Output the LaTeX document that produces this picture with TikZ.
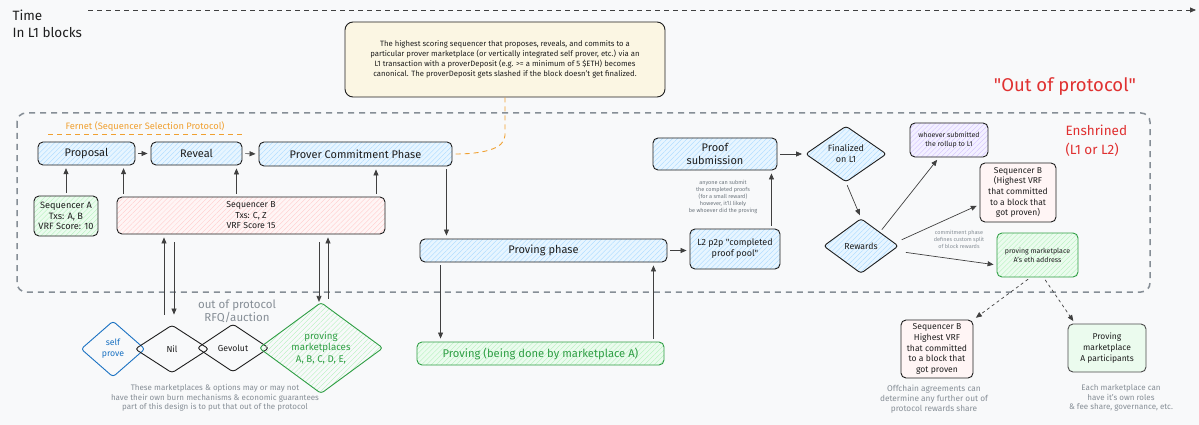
\documentclass[tikz,border=0pt]{standalone}
\usepackage{fontspec}
\setmainfont{Fira Sans}
\usetikzlibrary{arrows.meta,patterns.meta,shapes.geometric,calc}
\definecolor{bg}{HTML}{F8F9FA}
\definecolor{ink}{HTML}{1E1E1E}
\definecolor{bluef}{HTML}{E7F5FF}
\definecolor{blueh}{HTML}{A5D8FF}
\definecolor{pinkf}{HTML}{FFF5F5}
\definecolor{pinkh}{HTML}{FFC9C9}
\definecolor{greenf}{HTML}{EBFBEE}
\definecolor{greenh}{HTML}{B2F2BB}
\definecolor{lavf}{HTML}{F3F0FF}
\definecolor{lavh}{HTML}{D0BFFF}
\definecolor{creamf}{HTML}{FBF6E3}
\definecolor{gborder}{HTML}{2F9E44}
\definecolor{gtext}{HTML}{2F9E44}
\definecolor{bborder}{HTML}{1971C2}
\definecolor{redt}{HTML}{E03131}
\definecolor{orng}{HTML}{F0A030}
\definecolor{grayt}{HTML}{868E96}
\definecolor{grayd}{HTML}{6C757D}
\definecolor{dashg}{HTML}{868E96}
\begin{document}
\begin{tikzpicture}[x=1pt,y=-1pt,
  box/.style={draw=ink, line width=0.9pt, rounded corners=5pt, align=center, inner sep=1pt, text=ink},
  hatch/.style 2 args={preaction={fill=#1}, pattern={Lines[angle=45,distance=3.5pt,line width=0.35pt]}, pattern color=#2},
  bluebox/.style={box, hatch={bluef}{blueh}},
  pinkbox/.style={box, hatch={pinkf}{pinkh}},
  greenbox/.style={box, hatch={greenf}{greenh}},
  dia/.style={diamond, draw=ink, line width=0.9pt, rounded corners=3pt, align=center, inner sep=0pt, text=ink},
  arr/.style={draw=ink!85, line width=0.7pt, -{Triangle[length=6pt,width=5pt]}, shorten >=3pt, shorten <=3pt},
  darr/.style={arr, dashed},
]
\fill[bg] (0,0) rectangle (1199,425);
\useasboundingbox (0,0) rectangle (1199,425);

% time axis
\node[anchor=west, align=left, font=\fontsize{13.5}{17}\selectfont, text=ink] (time) at (9,24) {Time\\In L1 blocks};
\coordinate (t0) at (88,10);
\coordinate (t1) at (1196,10);
\draw[draw=ink!85, line width=0.8pt, dash pattern=on 5pt off 4pt, -{Triangle[length=6pt,width=5pt]}] (t0) -- (t1);

% enshrined region
\draw[dashg, line width=1.5pt, dash pattern=on 6pt off 5pt, rounded corners=9pt] (17,113) rectangle (1150,292);
\node[anchor=west, align=left, text=redt, font=\fontsize{13.5}{19}\selectfont] (ensh) at (1062,141) {Enshrined\\(L1 or L2)};
\node[text=redt, font=\fontsize{18.5}{24}\selectfont] (oop) at (1065,87) {\textquotedbl Out of protocol\textquotedbl};

% note
\node[box, fill=creamf, rounded corners=8pt, minimum width=320pt, minimum height=75pt, font=\fontsize{7.7}{10.2}\selectfont] (note) at (505,59.5)
 {The highest scoring sequencer that proposes, reveals, and commits to a\\
  particular prover marketplace (or vertically integrated self prover, etc.) via an\\
  L1 transaction with a proverDeposit (e.g. >= a minimum of 5 \$ETH) becomes\\
  canonical. The proverDeposit gets slashed if the block doesn't get finalized.};

% Fernet
\node[text=orng, font=\fontsize{9.3}{11}\selectfont] (fernet) at (145,127) {Fernet (Sequencer Selection Protocol)};
\coordinate (fl) at (48,134);
\coordinate (fr) at (245,134);
\draw[orng, line width=0.8pt, dash pattern=on 5pt off 4pt] (fl) -- (fr);

% top row
\node[bluebox, minimum width=97pt, minimum height=23pt, font=\fontsize{11}{13}\selectfont] (prop) at (86.5,153.5) {Proposal};
\node[bluebox, minimum width=91pt, minimum height=23pt, font=\fontsize{11}{13}\selectfont] (rev) at (196.5,153.5) {Reveal};
\node[bluebox, minimum width=193pt, minimum height=24pt, font=\fontsize{11}{13}\selectfont] (pcp) at (355.5,154) {Prover Commitment Phase};

\node[greenbox, minimum width=64pt, minimum height=40pt, font=\fontsize{9.2}{10.5}\selectfont] (seqA) at (66,216) {Sequencer A\\Txs: A, B\\VRF Score: 10};
\node[pinkbox, minimum width=268pt, minimum height=37pt, font=\fontsize{8.7}{10.5}\selectfont] (seqB) at (251,215.5) {Sequencer B\\Txs: C, Z\\VRF Score 15};

\node[bluebox, minimum width=247pt, minimum height=23pt, font=\fontsize{11}{13}\selectfont] (pp) at (543.5,250.5) {Proving phase};
\node[bluebox, minimum width=90pt, minimum height=40pt, font=\fontsize{9}{11}\selectfont] (l2) at (735,249) {L2 p2p \textquotedbl completed\\proof pool\textquotedbl};
\node[bluebox, minimum width=124pt, minimum height=32pt, font=\fontsize{11}{13}\selectfont] (ps) at (715,154) {Proof\\submission};
\node[text=grayd, align=center, font=\fontsize{5.5}{7}\selectfont] (anyone) at (723,197) {anyone can submit\\the completed proofs\\(for a small reward)\\however, it'll likely\\be whoever did the proving};

\node[dia, hatch={bluef}{blueh}, minimum width=81pt, minimum height=56pt, font=\fontsize{9}{11}\selectfont] (fin) at (846,154) {Finalized\\on L1};
\node[dia, hatch={bluef}{blueh}, minimum width=75pt, minimum height=55pt, font=\fontsize{8.7}{10}\selectfont] (rew) at (861,246) {Rewards};

\node[box, hatch={lavf}{lavh}, minimum width=78pt, minimum height=34pt, font=\fontsize{7}{9}\selectfont] (who) at (949,140) {whoever submitted\\the rollup to L1};
\node[box, fill=pinkf, minimum width=76pt, minimum height=59pt, font=\fontsize{8.5}{10.7}\selectfont] (sbr) at (1018,192.5) {Sequencer B\\(Highest VRF\\that committed\\to a block that\\got proven)};
\node[box, draw=gborder, hatch={greenf}{greenh}, minimum width=81pt, minimum height=44pt, font=\fontsize{7}{9}\selectfont] (pme) at (1037.5,255) {proving marketplace\\A's eth address};
\node[text=grayt, align=center, font=\fontsize{5.5}{7}\selectfont] (split) at (959,239) {commitment phase\\defines custom split\\of block rewards};

\node[box, fill=pinkf, minimum width=72pt, minimum height=58pt, font=\fontsize{8.6}{10.7}\selectfont] (sbl) at (937,349) {Sequencer B\\Highest VRF\\that committed\\to a block that\\got proven};
\node[box, fill=greenf, draw=ink!80, minimum width=78pt, minimum height=48pt, font=\fontsize{8.5}{10.7}\selectfont] (pmp) at (1107,348) {Proving\\marketplace\\A participants};
\node[text=grayt, align=center, font=\fontsize{8.3}{9.7}\selectfont] (offc) at (934,399) {Offchain agreements can\\determine any further out of\\protocol rewards share};
\node[text=grayt, align=center, font=\fontsize{8}{9.7}\selectfont] (each) at (1121,398) {Each marketplace can\\have it's own roles\\\& fee share, governance, etc.};

% bottom left diamonds
\node[dia, draw=bborder, text=bborder, minimum width=64pt, minimum height=56pt, font=\fontsize{8.7}{11}\selectfont] (self) at (113,349) {self\\prove};
\node[dia, minimum width=74pt, minimum height=48pt, font=\fontsize{8.7}{11}\selectfont] (nil) at (172,349) {Nil};
\node[dia, minimum width=72pt, minimum height=48pt, font=\fontsize{8.7}{11}\selectfont] (gev) at (233,348) {Gevolut};
\node[dia, draw=gborder, text=gtext, pattern={Lines[angle=45,distance=3.5pt,line width=0.35pt]}, pattern color=greenh, minimum width=124pt, minimum height=70pt, font=\fontsize{9.7}{11.5}\selectfont] (pmk) at (321,348) {proving\\marketplaces\\A, B, C, D, E,};
\node[text=grayt, align=center, font=\fontsize{11.5}{13}\selectfont] (rfq) at (237,311) {out of protocol\\RFQ/auction};
\node[text=grayt, align=center, font=\fontsize{8}{9.5}\selectfont] (these) at (215,398) {These marketplaces \& options may or may not\\have their own burn mechanisms \& economic guarantees\\part of this design is to put that out of the protocol};

\node[box, draw=gborder, text=gtext, hatch={greenf}{greenh}, minimum width=247pt, minimum height=23pt, font=\fontsize{11.2}{13}\selectfont] (pg) at (540.5,353.5) {Proving (being done by marketplace A)};

% connectors
\draw[arr] (prop.east) -- (rev.west);
\draw[arr] (rev.east) -- (pcp.west);
\draw[arr] (seqA.north) -- (seqA.north |- prop.south);
\draw[arr] ([xshift=7pt]seqB.north west) -- ([xshift=7pt]seqB.north west |- prop.south);
\draw[arr] ([xshift=-6pt]rev.south east |- seqB.north) -- ([xshift=-6pt]rev.south east);
\draw[arr] ([xshift=20.5pt]pcp.south |- seqB.north) -- ([xshift=20.5pt]pcp.south);
\draw[arr] ([xshift=-6pt]pcp.south east) -- ([xshift=-6pt]pcp.south east |- pp.north);
\draw[arr] (pp.east) -- (pp.east -| l2.west);
\draw[arr] ([xshift=-9pt]l2.north east) -- ([xshift=-9pt]l2.north east |- ps.south);
\draw[arr] (ps.east) -- (fin.west);
\draw[arr] (fin.south) -- (rew.north);
\draw[arr] (rew.north east) -- ([xshift=-10pt]who.south);
\draw[arr] ([yshift=5pt]rew.east) -- ([yshift=-12pt]sbr.west);
\draw[arr] ([xshift=4pt,yshift=-6pt]rew.east) -- ([yshift=-10pt]pme.west);
\draw[darr] ([xshift=-7pt]pme.south) -- (sbl.north east);
\draw[darr] ([xshift=6pt]pme.south) -- ([xshift=-32pt]pmp.north);

\draw[arr, shorten <=0pt] ([xshift=-8pt,yshift=10pt]nil.north) -- ([xshift=-8pt]nil.north |- seqB.south);
\draw[arr, shorten <=8pt, shorten >=0pt] ([xshift=2pt]nil.north |- seqB.south) -- ([xshift=2pt,yshift=10pt]nil.north);
\draw[arr, shorten <=8pt, shorten >=0pt] ([xshift=-2pt]pmk.north |- seqB.south) -- ([xshift=-2pt]pmk.north);
\draw[arr, shorten <=0pt] ([xshift=7pt,yshift=3pt]pmk.north) -- ([xshift=7pt]pmk.north |- seqB.south);

\draw[arr] ([xshift=21pt]pp.south west) -- ([xshift=21pt]pp.south west |- pg.north);
\draw[arr] ([xshift=-11pt]pg.north east) -- ([xshift=-11pt]pg.north east |- pp.south);

% orange connector note -> pcp
\draw[orng, line width=0.9pt, dash pattern=on 5pt off 4pt] (note.south) -- ([yshift=-38pt]note.south) .. controls +(0,14) and +(25,0) .. ([xshift=3pt]pcp.east);
\end{tikzpicture}
\end{document}
